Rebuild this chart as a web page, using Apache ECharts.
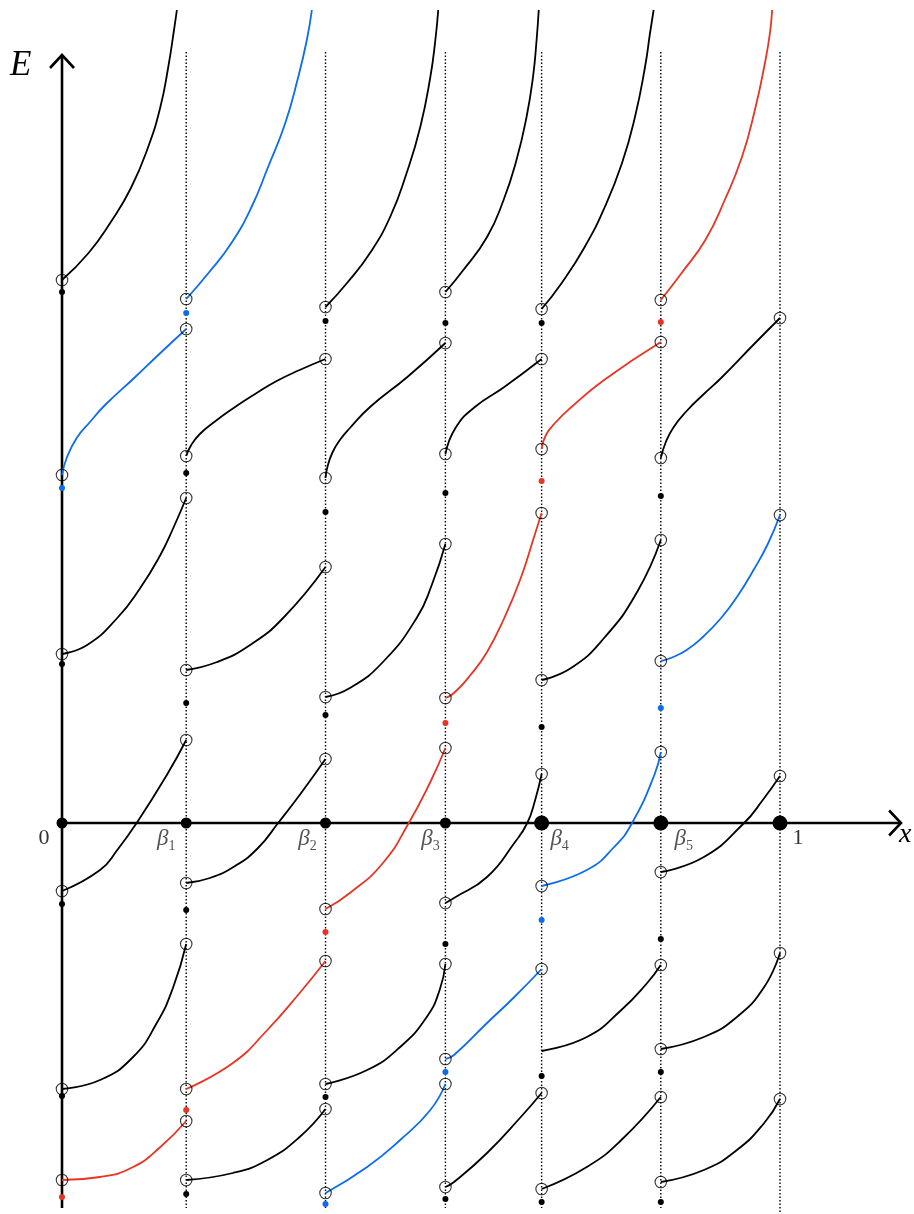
<!DOCTYPE html>
<html><head><meta charset="utf-8">
<script src="https://cdn.jsdelivr.net/npm/echarts@6/dist/echarts.min.js"></script>
<style>html,body{margin:0;padding:0;background:#fff}#c{width:914px;height:1214px}</style>
</head><body><div id="c"></div>
<script>
// ---- data (x in [0,1], E in arbitrary energy units) ----
const tickX = [0, 0.173, 0.367, 0.534, 0.668, 0.834, 1];
const tickLabels = ['0', 'β1', 'β2', 'β3', 'β4', 'β5', '1'];

// band k = curves on the interval [tickX[k], tickX[k+1]]
const band0 = [
  [[0,5.43],[0.037,5.70],[0.068,6.01],[0.096,6.35],[0.120,6.76],[0.137,7.16],[0.148,7.56],[0.156,7.93],[0.160,8.13]],
  [[0,3.48],[0.0065,3.65],[0.0205,3.85],[0.039,4.01],[0.060,4.18],[0.102,4.46],[0.137,4.70],[0.173,4.94]],
  [[0,1.69],[0.035,1.78],[0.077,2.05],[0.109,2.35],[0.137,2.68],[0.155,2.95],[0.173,3.25]],
  [[0,-0.68],[0.053,-0.47],[0.077,-0.27],[0.104,0],[0.146,0.48],[0.173,0.83]],
  [[0,-2.66],[0.053,-2.57],[0.099,-2.34],[0.132,-2.00],[0.155,-1.64],[0.173,-1.21]],
  [[0,-3.57],[0.053,-3.54],[0.099,-3.44],[0.137,-3.24],[0.173,-2.98]]
];
const band1 = [
  [[0.173,5.24],[0.204,5.50],[0.236,5.80],[0.264,6.16],[0.287,6.56],[0.311,7.00],[0.329,7.46],[0.341,7.83],[0.348,8.13]],
  [[0.173,3.67],[0.180,3.78],[0.192,3.89],[0.213,4.015],[0.238,4.145],[0.269,4.29],[0.299,4.42],[0.331,4.53],[0.367,4.64]],
  [[0.173,1.53],[0.216,1.61],[0.262,1.78],[0.308,2.05],[0.367,2.56]],
  [[0.173,-0.60],[0.206,-0.55],[0.241,-0.43],[0.273,-0.25],[0.301,0],[0.331,0.28],[0.367,0.64]],
  [[0.173,-2.66],[0.238,-2.40],[0.286,-2.07],[0.331,-1.70],[0.367,-1.38]],
  [[0.173,-3.57],[0.238,-3.50],[0.286,-3.37],[0.331,-3.14],[0.367,-2.86]]
];
const band2 = [
  [[0.367,5.16],[0.397,5.40],[0.429,5.70],[0.457,6.06],[0.480,6.50],[0.499,6.96],[0.513,7.46],[0.520,7.83],[0.524,8.13]],
  [[0.367,3.45],[0.370,3.57],[0.377,3.71],[0.387,3.83],[0.401,3.95],[0.429,4.16],[0.481,4.46],[0.534,4.80]],
  [[0.367,1.26],[0.401,1.35],[0.447,1.61],[0.494,2.05],[0.515,2.38],[0.534,2.79]],
  [[0.367,-0.86],[0.401,-0.70],[0.447,-0.40],[0.483,0],[0.513,0.41],[0.534,0.75]],
  [[0.367,-2.61],[0.425,-2.47],[0.471,-2.24],[0.508,-1.94],[0.526,-1.67],[0.534,-1.41]],
  [[0.367,-3.70],[0.425,-3.44],[0.471,-3.17],[0.513,-2.87],[0.534,-2.61]]
];
const band3 = [
  [[0.534,5.31],[0.559,5.53],[0.592,5.86],[0.615,6.23],[0.633,6.63],[0.647,7.06],[0.656,7.46],[0.661,7.83],[0.664,8.13]],
  [[0.534,3.69],[0.548,3.95],[0.575,4.16],[0.616,4.36],[0.668,4.64]],
  [[0.534,1.25],[0.546,1.30],[0.569,1.48],[0.592,1.71],[0.616,2.05],[0.639,2.45],[0.657,2.85],[0.668,3.10]],
  [[0.534,-0.80],[0.546,-0.75],[0.592,-0.54],[0.630,-0.20],[0.648,0],[0.659,0.23],[0.668,0.49]],
  [[0.534,-2.36],[0.546,-2.32],[0.592,-2.00],[0.630,-1.74],[0.668,-1.46]],
  [[0.534,-3.64],[0.546,-3.59],[0.592,-3.30],[0.639,-2.94],[0.668,-2.70]]
];
const band4 = [
  [[0.668,5.14],[0.696,5.40],[0.728,5.76],[0.756,6.16],[0.780,6.60],[0.798,7.06],[0.812,7.56],[0.819,7.90],[0.824,8.13]],
  [[0.668,3.74],[0.674,3.88],[0.688,4.01],[0.708,4.15],[0.755,4.43],[0.834,4.81]],
  [[0.668,1.43],[0.709,1.55],[0.755,1.85],[0.801,2.31],[0.834,2.83]],
  [[0.668,-0.63],[0.731,-0.47],[0.769,-0.24],[0.794,0],[0.825,0.48],[0.834,0.71]],
  [[0.668,-2.28],[0.731,-2.14],[0.779,-1.87],[0.815,-1.60],[0.834,-1.42]],
  [[0.668,-3.66],[0.731,-3.44],[0.779,-3.17],[0.834,-2.74]]
];
const band5 = [
  [[0.834,5.23],[0.863,5.50],[0.896,5.83],[0.923,6.23],[0.947,6.66],[0.965,7.13],[0.979,7.60],[0.986,7.90],[0.989,8.13]],
  [[0.834,3.65],[0.841,3.81],[0.852,3.96],[0.870,4.12],[0.894,4.29],[0.918,4.45],[0.964,4.79],[1,5.05]],
  [[0.834,1.62],[0.848,1.65],[0.870,1.73],[0.894,1.87],[0.918,2.05],[0.940,2.26],[0.964,2.54],[0.983,2.79],[1,3.08]],
  [[0.834,-0.49],[0.894,-0.34],[0.950,0],[0.976,0.23],[1,0.47]],
  [[0.834,-2.26],[0.894,-2.14],[0.940,-1.94],[0.978,-1.64],[1,-1.30]],
  [[0.834,-3.59],[0.894,-3.47],[0.940,-3.27],[0.978,-3.00],[1,-2.76]]
];
// colour key of each curve, per band (k black, b blue, r red)
const bandColors = [
  ['k','b','k','k','k','r'],
  ['b','k','k','k','r','k'],
  ['k','k','k','r','k','b'],
  ['k','k','r','k','b','k'],
  ['k','r','k','b','k','k'],
  ['r','k','b','k','k','k']
];
// value of the function at the left break point (filled dot), per band
const bandDots = [
  [5.31, 3.35, 1.59, -0.81, -2.73, -3.74],
  [5.10, 3.50, 1.20, -0.87, -2.87, -3.71],
  [5.02, 3.11, 1.08, -1.09, -2.74, -3.81],
  [5.00, 3.30, 1.00, -1.21, -2.49, -3.76],
  [5.00, 3.42, 0.96, -0.97, -2.53, -3.79],
  [5.01, 3.27, 1.15, -1.16, -2.49, -3.79]
];

// ---- drawing ----
const bands = [band0, band1, band2, band3, band4, band5];
const COL = {k:'#000000', b:'#0b6cf0', r:'#e93323'};
const PX_X = 718, PX_Y = 100;           // pixels per unit
const xMin = -62/PX_X, xMax = (914-62)/PX_X;
const yMin = (823-1214)/PX_Y, yMax = 823/PX_Y;
const topClip = 8.0;
const noStartCircle = {'4-4': true};

const series = [];
// dotted verticals
tickX.slice(1).forEach((x, i) => {
  series.push({type:'line', silent:true, symbol:'none', z:1,
    data:[[x, 7.71],[x, i === 5 ? -3.91 : -3.85]],
    lineStyle:{color:'#000', width:1.4, type:[1.5,2]}});
});
// axes
series.push({type:'line', symbol:'none', z:3, data:[[0,-3.85],[0,7.68]], lineStyle:{color:'#000', width:2.6}});
series.push({type:'line', symbol:'none', z:3, data:[[-0.0167,7.55],[0,7.68],[0.0167,7.55]], lineStyle:{color:'#000', width:2.6, join:'miter'}});
series.push({type:'line', symbol:'none', z:3, data:[[0,0],[1.1685,0]], lineStyle:{color:'#000', width:2.6}});
series.push({type:'line', symbol:'none', z:3, data:[[1.152,0.125],[1.1685,0],[1.152,-0.125]], lineStyle:{color:'#000', width:2.6, join:'miter'}});

const circles = [];
const dots = {k:[], b:[], r:[]};
bands.forEach((band, bi) => {
  band.forEach((pts, ci) => {
    const c = bandColors[bi][ci];
    series.push({type:'line', symbol:'none', smooth:0.5, z:4,
      data:pts, lineStyle:{color:COL[c], width:1.8}});
    if (!noStartCircle[bi + '-' + ci]) circles.push(pts[0]);
    const last = pts[pts.length-1];
    if (last[1] < topClip) circles.push(last);
    dots[c].push([tickX[bi], bandDots[bi][ci]]);
  });
});
series.push({type:'scatter', symbol:'circle', symbolSize:11.5, z:6, data:circles,
  itemStyle:{color:'rgba(255,255,255,0)', borderColor:'#000', borderWidth:1.1}});
Object.keys(dots).forEach(c => {
  series.push({type:'scatter', symbol:'circle', symbolSize:6, z:7, data:dots[c], itemStyle:{color:COL[c], opacity:1}});
});

// big dots on the x axis with their labels
const offsets = [[-18,15],[-20,16],[-18,16],[-15,16],[18,16],[23,16],[18,15]];
const bigSizes = [11,11,11,11,15,15,15];
series.push({type:'scatter', symbol:'circle', z:8,
  data: tickX.map((x,i) => ({
    value:[x,0], symbolSize:bigSizes[i],
    label:{show:true, position:'inside', offset:offsets[i],
      formatter: tickLabels[i].startsWith('β') ? '{b|β}{s|' + tickLabels[i].slice(1) + '}' : '{n|' + tickLabels[i] + '}'}
  })),
  itemStyle:{color:'#000', opacity:1},
  label:{rich:{
    b:{fontFamily:'Liberation Serif', fontStyle:'italic', fontSize:23, color:'#555', lineHeight:28, verticalAlign:'middle'},
    s:{fontFamily:'Liberation Serif', fontSize:14, color:'#555', lineHeight:28, verticalAlign:'bottom'},
    n:{fontFamily:'Liberation Serif', fontSize:22, color:'#333', lineHeight:26}
  }}
});

const chart = echarts.init(document.getElementById('c'), null, {renderer:'canvas'});
chart.setOption({
  animation:false,
  backgroundColor:'#fff',
  grid:{left:0, right:0, top:0, bottom:0},
  xAxis:{type:'value', min:xMin, max:xMax, show:false},
  yAxis:{type:'value', min:yMin, max:yMax, show:false},
  graphic:[
    {type:'text', left:10, top:48, style:{text:'E', fontFamily:'Liberation Serif', fontStyle:'italic', fontSize:35, fill:'#000'}},
    {type:'text', left:899, top:821, style:{text:'x', fontFamily:'Liberation Serif', fontStyle:'italic', fontSize:28, fill:'#000'}}
  ],
  series:series
});
</script></body></html>
